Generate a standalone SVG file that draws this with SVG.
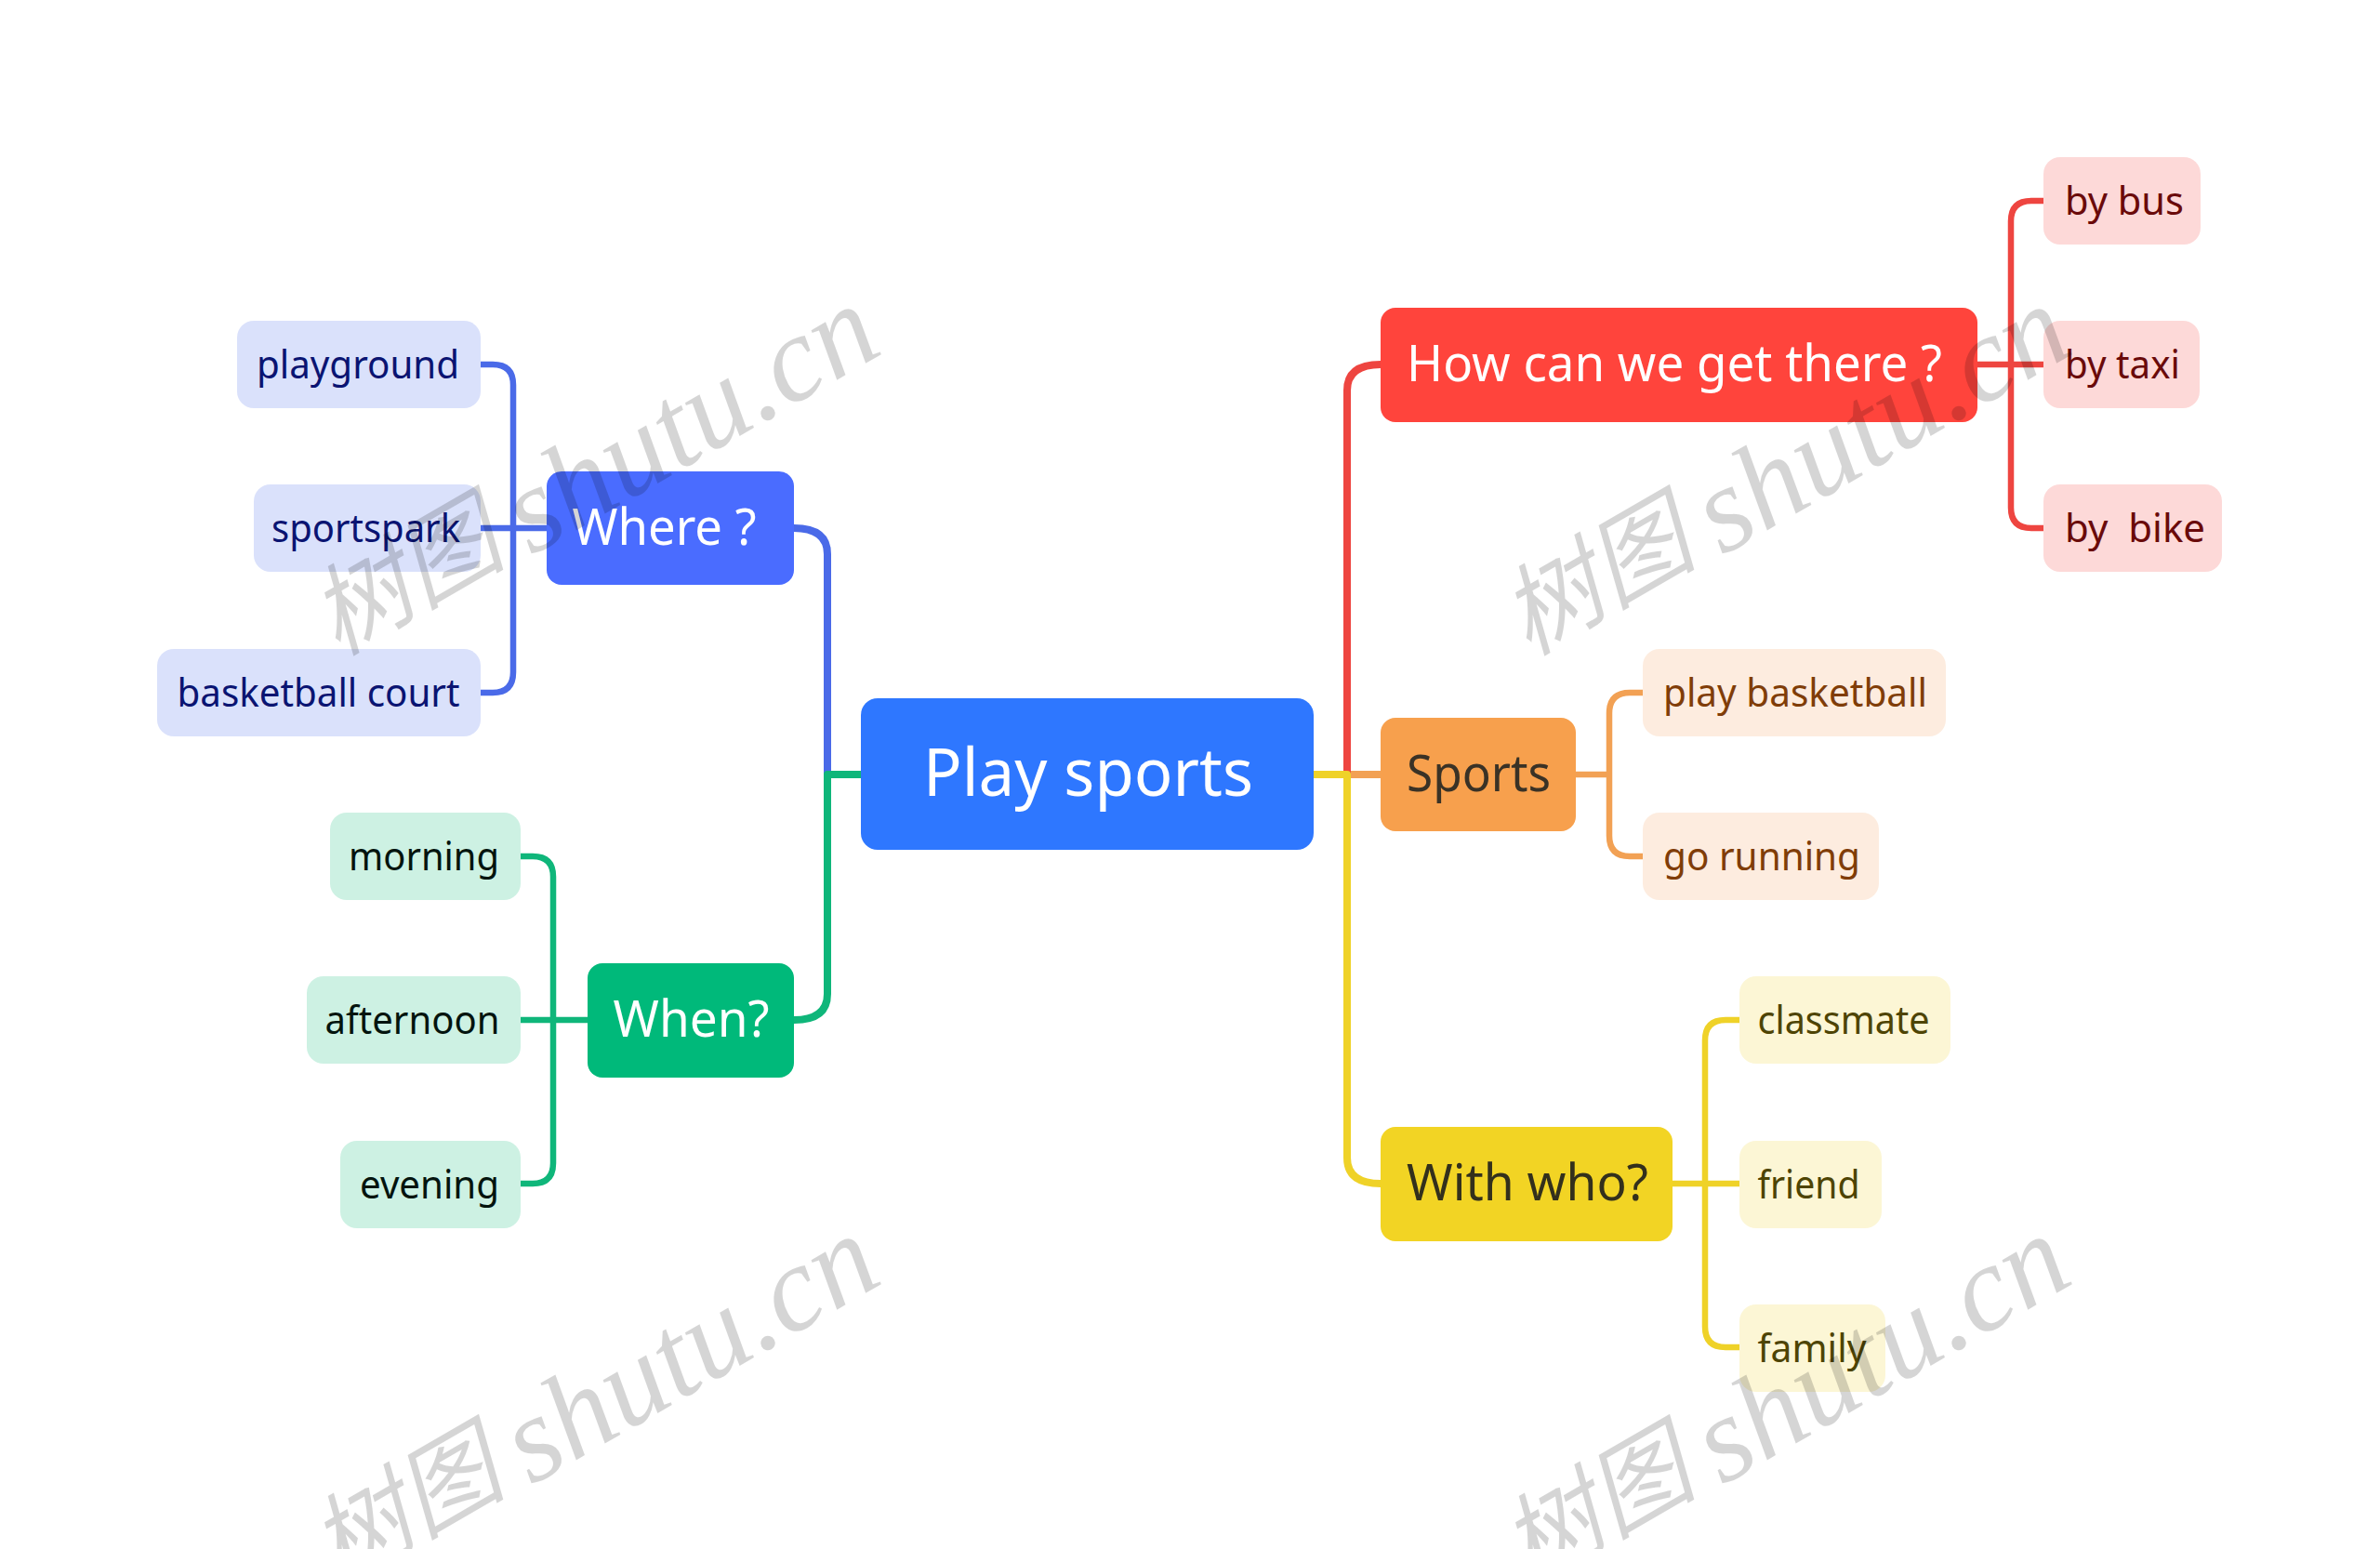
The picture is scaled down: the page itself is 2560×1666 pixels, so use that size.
<svg xmlns="http://www.w3.org/2000/svg" width="2560" height="1666" viewBox="0 0 2560 1666">
<defs>
<style>
text{font-family:"Noto Sans","Open Sans","Noto Sans CJK SC",sans-serif}
.root{font-size:72px;fill:#fff}
.mid{font-size:54px}
.leaf{font-size:42px}
.c{fill:none;stroke-linejoin:round}
.m{stroke-width:8}
.s{stroke-width:6.5}
.blue{stroke:#4a6ae8}.green{stroke:#0fb67a}.red{stroke:#ee4540}.orange{stroke:#f2a154}.yellow{stroke:#efd228}
.lb{fill:#dae1fb}.lg{fill:#cdf1e3}.lr{fill:#fdd9d8}.lo{fill:#fdecdf}.ly{fill:#fcf6d5}
.tb{fill:#0a1472}.tg{fill:#04140e}.tr{fill:#6a0a0a}.to{fill:#803d08}.ty{fill:#4e4404}
.wm{font-family:"Liberation Serif","Noto Sans CJK SC",serif;font-style:italic;font-size:131px;fill:#000;fill-opacity:.165}
.wc{font-size:106px}
</style>
<g id="mark"><text class="wm" transform="rotate(-30)" x="0" y="0"><tspan class="wc">树图 </tspan><tspan dx="-4" dy="11">shutu.cn</tspan></text></g>
</defs>
<rect width="2560" height="1666" fill="#fff"/>
<g id="connectors">
<path class="c m blue" d="M890 833V596Q890 568 854 568"/>
<path class="c m green" d="M926 833H890V1069Q890 1097 854 1097"/>
<path class="c m orange" d="M1449 833H1485"/>
<path class="c m red" d="M1449 833V420Q1449 392 1485 392"/>
<path class="c m yellow" d="M1412 833H1449V1245Q1449 1273 1485 1273"/>
<path class="c s blue" d="M517 392H530Q552 392 552 414V723Q552 745 530 745H517M517 568H588"/>
<path class="c s green" d="M560 921H573Q595 921 595 943V1251Q595 1273 573 1273H560M560 1097H632"/>
<path class="c s red" d="M2198 216H2185Q2163 216 2163 238V546Q2163 568 2185 568H2198M2127 392H2198"/>
<path class="c s orange" d="M1767 745H1753Q1731 745 1731 767V899Q1731 921 1753 921H1767M1695 833H1731"/>
<path class="c s yellow" d="M1871 1097H1856Q1834 1097 1834 1119V1427Q1834 1449 1856 1449H1871M1799 1273H1871"/>
</g>
<g id="node-root"><rect x="926" y="751" width="487" height="163" rx="18" fill="#2e77ff"/><text class="root" x="993" y="856" textLength="355" lengthAdjust="spacingAndGlyphs">Play sports</text></g>
<g id="node-where"><rect x="588" y="507" width="266" height="122" rx="16" fill="#4a6cff"/><text class="mid" x="615.500" y="586" textLength="198" lengthAdjust="spacingAndGlyphs" fill="#fff">Where ?</text></g>
<g id="node-when"><rect x="632" y="1036" width="222" height="123" rx="16" fill="#00b97a"/><text class="mid" x="659.500" y="1115" textLength="168" lengthAdjust="spacingAndGlyphs" fill="#fff">When?</text></g>
<g id="node-how"><rect x="1485" y="331" width="642" height="123" rx="16" fill="#ff443c"/><text class="mid" x="1513" y="410" textLength="576" lengthAdjust="spacingAndGlyphs" fill="#fff">How can we get there ?</text></g>
<g id="node-sports"><rect x="1485" y="772" width="210" height="122" rx="16" fill="#f7a04d"/><text class="mid" x="1513" y="851" textLength="155" lengthAdjust="spacingAndGlyphs" fill="#3a3226">Sports</text></g>
<g id="node-with"><rect x="1485" y="1212" width="314" height="123" rx="16" fill="#f2d424"/><text class="mid" x="1513" y="1291" textLength="260" lengthAdjust="spacingAndGlyphs" fill="#33301c">With who?</text></g>
<g id="node-playground"><rect class="lb" x="255" y="345" width="262" height="94" rx="18"/><text class="leaf tb" x="276" y="407" textLength="218" lengthAdjust="spacingAndGlyphs">playground</text></g>
<g id="node-sportspark"><rect class="lb" x="273" y="521" width="244" height="94" rx="18"/><text class="leaf tb" x="292" y="583" textLength="203" lengthAdjust="spacingAndGlyphs">sportspark</text></g>
<g id="node-court"><rect class="lb" x="169" y="698" width="348" height="94" rx="18"/><text class="leaf tb" x="190.500" y="760" textLength="304" lengthAdjust="spacingAndGlyphs">basketball court</text></g>
<g id="node-morning"><rect class="lg" x="355" y="874" width="205" height="94" rx="18"/><text class="leaf tg" x="375" y="936" textLength="162" lengthAdjust="spacingAndGlyphs">morning</text></g>
<g id="node-afternoon"><rect class="lg" x="330" y="1050" width="230" height="94" rx="18"/><text class="leaf tg" x="349.500" y="1112" textLength="188" lengthAdjust="spacingAndGlyphs">afternoon</text></g>
<g id="node-evening"><rect class="lg" x="366" y="1227" width="194" height="94" rx="18"/><text class="leaf tg" x="387" y="1289" textLength="150" lengthAdjust="spacingAndGlyphs">evening</text></g>
<g id="node-bus"><rect class="lr" x="2198" y="169" width="169" height="94" rx="18"/><text class="leaf tr" x="2221" y="231" textLength="128" lengthAdjust="spacingAndGlyphs">by bus</text></g>
<g id="node-taxi"><rect class="lr" x="2198" y="345" width="168" height="94" rx="18"/><text class="leaf tr" x="2221" y="407" textLength="124" lengthAdjust="spacingAndGlyphs">by taxi</text></g>
<g id="node-bike"><rect class="lr" x="2198" y="521" width="192" height="94" rx="18"/><text class="leaf tr" x="2221" y="583" textLength="151" lengthAdjust="spacingAndGlyphs" xml:space="preserve">by  bike</text></g>
<g id="node-basketball"><rect class="lo" x="1767" y="698" width="326" height="94" rx="18"/><text class="leaf to" x="1789" y="760" textLength="284" lengthAdjust="spacingAndGlyphs">play basketball</text></g>
<g id="node-running"><rect class="lo" x="1767" y="874" width="254" height="94" rx="18"/><text class="leaf to" x="1789" y="936" textLength="212" lengthAdjust="spacingAndGlyphs">go running</text></g>
<g id="node-classmate"><rect class="ly" x="1871" y="1050" width="227" height="94" rx="18"/><text class="leaf ty" x="1890.500" y="1112" textLength="185" lengthAdjust="spacingAndGlyphs">classmate</text></g>
<g id="node-friend"><rect class="ly" x="1871" y="1227" width="153" height="94" rx="18"/><text class="leaf ty" x="1890.500" y="1289" textLength="110" lengthAdjust="spacingAndGlyphs">friend</text></g>
<g id="node-family"><rect class="ly" x="1871" y="1403" width="157" height="94" rx="18"/><text class="leaf ty" x="1890.500" y="1465" textLength="117" lengthAdjust="spacingAndGlyphs">family</text></g>
<g id="watermarks">
<use href="#mark" x="363" y="706"/>
<use href="#mark" x="1644" y="706"/>
<use href="#mark" x="363" y="1706"/>
<use href="#mark" x="1644" y="1706"/>
</g>
</svg>
